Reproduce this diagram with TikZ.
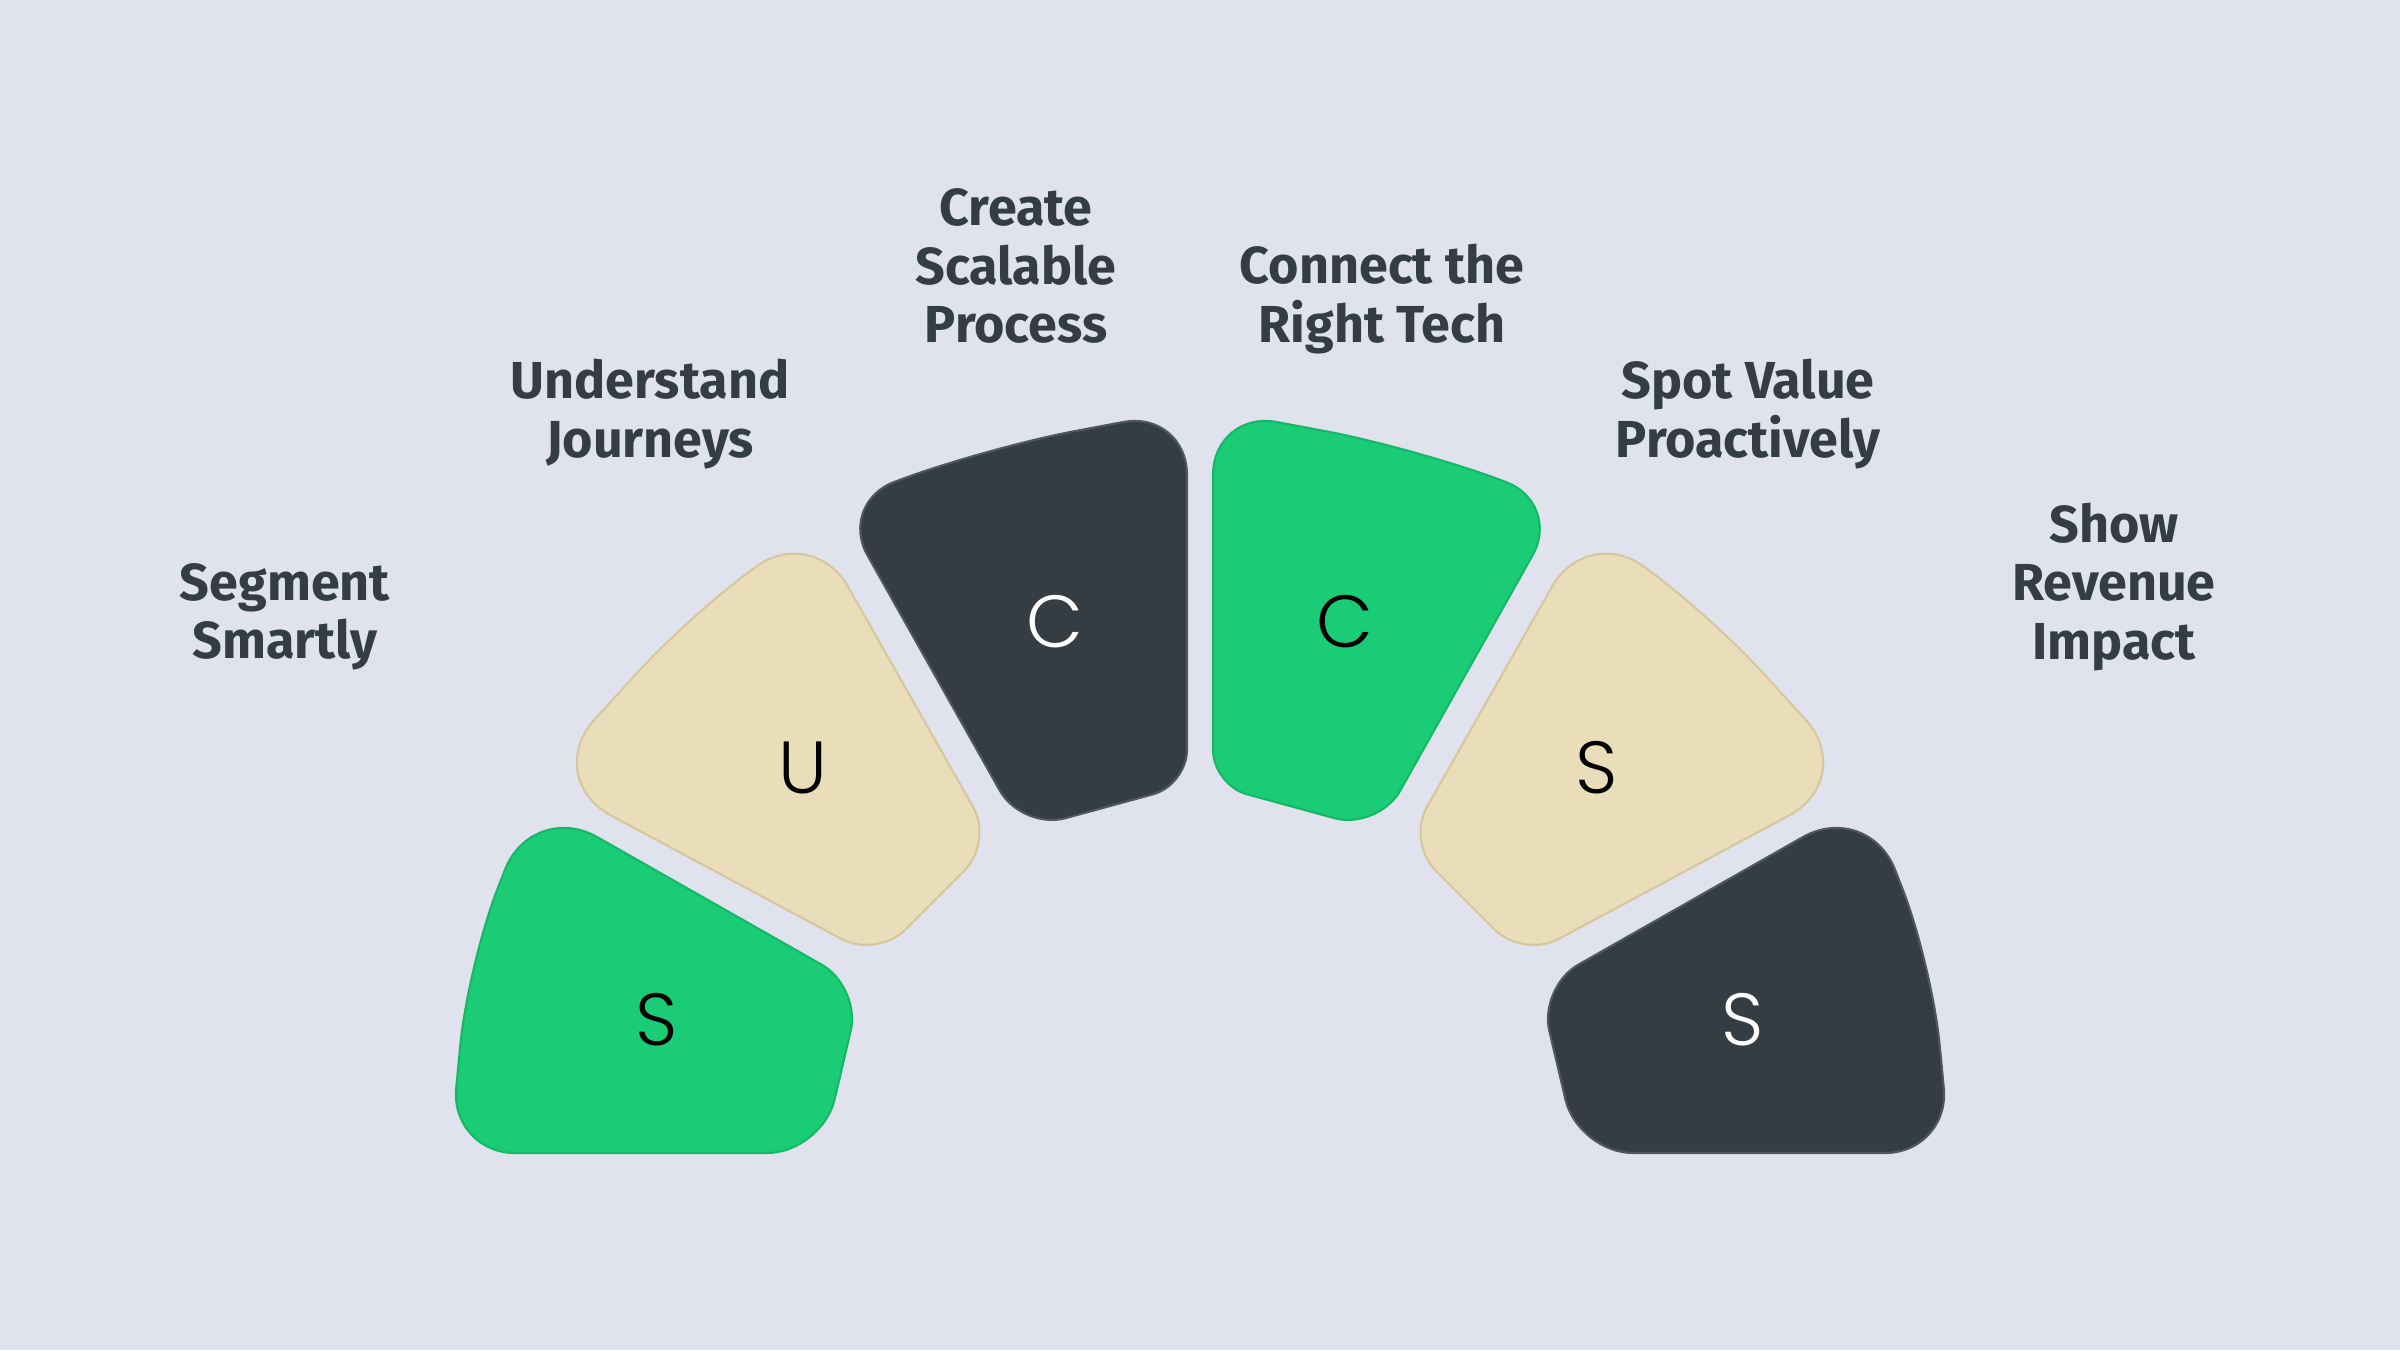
\documentclass[tikz,border=0pt]{standalone}
\usepackage{fontspec}
\setmainfont{Fira Sans}
\IfFontExistsTF{Poppins-Light}{\newfontfamily\letterfont{Poppins-Light}}{%
 \IfFontExistsTF{Poppins ExtraLight}{\newfontfamily\letterfont{Poppins ExtraLight}}{%
  \IfFontExistsTF{Fira Sans Light}{\newfontfamily\letterfont{Fira Sans Light}}{%
   \newfontfamily\letterfont{Poppins}}}}
\usetikzlibrary{calc}
\definecolor{bg}{HTML}{E0E3EE}
\definecolor{sgreen}{HTML}{1BCC76}
\definecolor{sgreenedge}{HTML}{16B868}
\definecolor{sbeige}{HTML}{E9DDBA}
\definecolor{sbeigeedge}{HTML}{D6C79E}
\definecolor{sdark}{HTML}{333D43}
\definecolor{sdarkedge}{HTML}{4E585E}
\definecolor{labeltext}{HTML}{333D43}
% rounded corner: prev, vertex, next, radius (px)
\newcommand\rc[4]{-- ($(#2)!#4*0.2845pt!(#1)$) .. controls ($(#2)!#4*0.128pt!(#1)$) and ($(#2)!#4*0.128pt!(#3)$) .. ($(#2)!#4*0.2845pt!(#3)$)}
\def\mx#1{#1}
\newcommand\shapeone[2]{%
  \coordinate (a) at ({\mx{532}},800);
  \coordinate (b) at ({\mx{861}},987);
  \coordinate (c) at ({\mx{822}},1153);
  \coordinate (d) at ({\mx{450}},1153);
  \coordinate (e) at ({\mx{468}},965);
  \filldraw[fill=#1, draw=#2, line width=0.6pt] ($(e)!0.5!(a)$) \rc{e}{a}{b}{75} \rc{a}{b}{c}{45} \rc{b}{c}{d}{55} \rc{c}{d}{e}{65} \rc{d}{e}{a}{80} -- cycle;
}
\newcommand\shapetwo[2]{%
  \coordinate (a) at ({\mx{813}},525);
  \coordinate (b) at ({\mx{690}},615);
  \coordinate (c) at ({\mx{541}},778);
  \coordinate (d) at ({\mx{877}},958);
  \coordinate (e) at ({\mx{993}},842);
  \filldraw[fill=#1, draw=#2, line width=0.6pt] ($(e)!0.5!(a)$) \rc{e}{a}{b}{70} \rc{a}{b}{c}{75} \rc{b}{c}{d}{80} \rc{c}{d}{e}{40} \rc{d}{e}{a}{40} -- cycle;
}
\newcommand\shapethree[2]{%
  \coordinate (a) at ({\mx{1187}},410);
  \coordinate (b) at ({\mx{985}},448);
  \coordinate (c) at ({\mx{838}},503);
  \coordinate (d) at ({\mx{1022}},830);
  \coordinate (e) at ({\mx{1187}},785);
  \filldraw[fill=#1, draw=#2, line width=0.6pt] ($(e)!0.5!(a)$) \rc{e}{a}{b}{65} \rc{a}{b}{c}{90} \rc{b}{c}{d}{60} \rc{c}{d}{e}{45} \rc{d}{e}{a}{35} -- cycle;
}
\begin{document}
\begin{tikzpicture}[x=0.01cm, y=-0.01cm,
  lab/.style={font=\fontsize{14.8}{16.6}\selectfont\bfseries, text=labeltext, align=center, inner sep=0pt},
  letter/.style={font=\letterfont\fontsize{21}{25}\selectfont, inner sep=0pt}]
\fill[bg] (0,0) rectangle (2400,1350);
\useasboundingbox (0,0) rectangle (2400,1350);
% left half
\def\mx#1{#1}
\shapeone{sgreen}{sgreenedge}
\shapetwo{sbeige}{sbeigeedge}
\shapethree{sdark}{sdarkedge}
% right half (mirrored)
\def\mx#1{(2400-#1)}
\shapeone{sdark}{sdarkedge}
\shapetwo{sbeige}{sbeigeedge}
\shapethree{sgreen}{sgreenedge}
% letters
\node[letter, text=black] (let1) at (657,1020) {S};
\node[letter, text=black] (let2) at (803,768) {U};
\node[letter, text=white] (let3) at (1055,622) {C};
\node[letter, text=black] (let4) at (1345,622) {C};
\node[letter, text=black] (let5) at (1597,768) {S};
\node[letter, text=white] (let6) at (1743,1020) {S};
% labels
\node[lab] (lab1) at (285,617) {Segment\\Smartly};
\node[lab] (lab2) at (650,414) {Understand\\Journeys};
\node[lab] (lab3) at (1016,266) {Create\\Scalable\\Process};
\node[lab] (lab4) at (1382,299) {Connect the\\Right Tech};
\node[lab] (lab5) at (1748,414) {Spot Value\\Proactively};
\node[lab] (lab6) at (2114,587) {Show\\Revenue\\Impact};
\end{tikzpicture}
\end{document}
